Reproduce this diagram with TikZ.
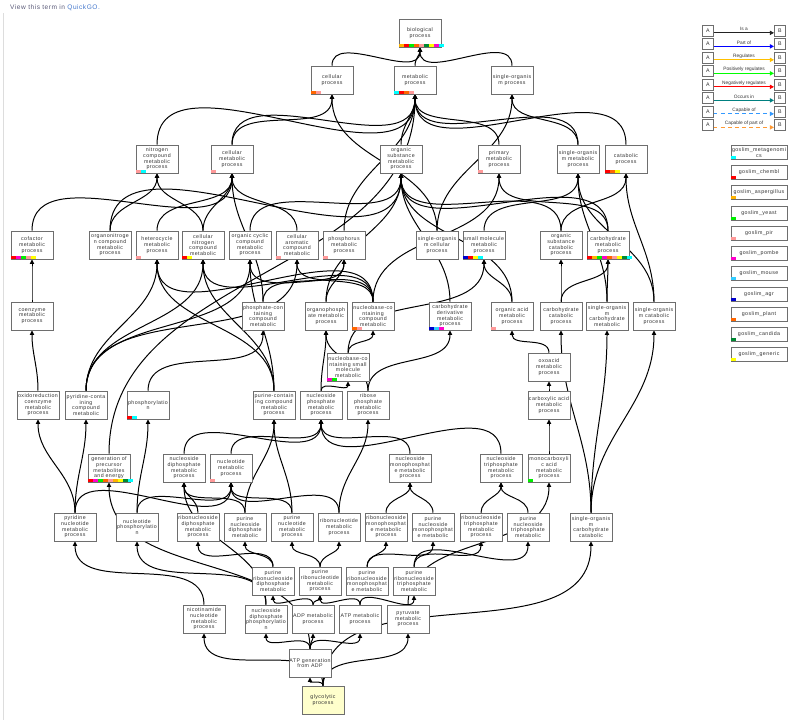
\documentclass[tikz,border=0pt]{standalone}
\usepackage{fontspec}
\newfontfamily\gofont[LetterSpace=8]{Liberation Sans}
\newfontfamily\keyfont{Liberation Sans}
\usetikzlibrary{arrows.meta}
\definecolor{term-border}{HTML}{6E6E6E}
\definecolor{term-text}{HTML}{333333}
\definecolor{glyco-fill}{HTML}{FFFFCC}
\definecolor{view-gray}{HTML}{5A5A78}
\definecolor{link-blue}{HTML}{4477CC}
\definecolor{panel-line}{HTML}{DDDDDD}
\definecolor{slim-meta}{HTML}{00FFFF}
\definecolor{slim-chembl}{HTML}{FF0000}
\definecolor{slim-asperg}{HTML}{FFB300}
\definecolor{slim-yeast}{HTML}{00EE00}
\definecolor{slim-pir}{HTML}{FF9999}
\definecolor{slim-pombe}{HTML}{FF00CC}
\definecolor{slim-mouse}{HTML}{33CCFF}
\definecolor{slim-agr}{HTML}{0000CC}
\definecolor{slim-plant}{HTML}{FF6600}
\definecolor{slim-candida}{HTML}{008833}
\definecolor{slim-generic}{HTML}{FFFF00}
\definecolor{rel-isa}{HTML}{222222}
\definecolor{rel-part}{HTML}{0000FF}
\definecolor{rel-reg}{HTML}{FFC000}
\definecolor{rel-pos}{HTML}{00FF00}
\definecolor{rel-neg}{HTML}{FF0000}
\definecolor{rel-occurs}{HTML}{008080}
\definecolor{rel-capable}{HTML}{3399FF}
\definecolor{rel-capart}{HTML}{FF9933}
\pgfdeclarelayer{edges}
\pgfsetlayers{edges,main}
\newcommand{\termfont}{\gofont\fontsize{4.5}{4.9}\selectfont}
\newcommand{\slimbar}[2]{%
  \foreach \col [count=\i from 0] in {#2}
    \fill[color=\col] (#1.south west) ++(\i*5+0.5,-0.5) rectangle ++(5,-3);}

\begin{document}
\begin{tikzpicture}[x=0.03cm, y=-0.03cm,
    term/.style={draw=term-border, fill=white, line width=0.5pt,
      minimum width=1.26cm, minimum height=0.84cm, inner sep=0pt,
      align=center, text=term-text, font=\termfont},
    isa/.style={draw=black, line width=0.85pt, out=90, in=-90,
      -{Triangle[length=4pt,width=3.6pt]}},
    relbox/.style={draw=term-border, fill=white, line width=0.5pt,
      minimum size=0.34cm, inner sep=0pt, text=term-text, font=\termfont},
    relarrow/.style={line width=1.1pt, -{Triangle[length=3.5pt,width=3.5pt]}},
    keylabel/.style={inner sep=0pt, text=term-text,
      font=\keyfont\fontsize{4.1}{4.5}\selectfont},
    slimbox/.style={draw=term-border, fill=white, line width=0.5pt,
      minimum width=1.68cm, minimum height=0.42cm, inner sep=0pt,
      align=center, text=term-text, font=\termfont}]
  \useasboundingbox (0,0) rectangle (806,720);

  \node[anchor=west, inner sep=0pt, font=\gofont\fontsize{5.6}{6}\selectfont]
    (viewlink) at (10,8)
    {\textcolor{view-gray}{View this term in} \textcolor{link-blue}{QuickGO.}};
  \draw[panel-line, line width=0.8pt] (3,13) -- (3,720);

  % terms, top to bottom
  \node[term] (bioproc) at (420, 33) {biological\\process};

  \node[term] (cellproc) at (332, 80) {cellular\\process};
  \node[term] (metab) at (415, 80) {metabolic\\process};
  \node[term] (singleorg) at (512, 80) {single-organis\\m process};

  \node[term] (nitrogen) at (157, 159) {nitrogen\\compound\\metabolic\\process};
  \node[term] (cellmetab) at (232, 159) {cellular\\metabolic\\process};
  \node[term] (orgsubst) at (401, 159) {organic\\substance\\metabolic\\process};
  \node[term] (primary) at (499, 159) {primary\\metabolic\\process};
  \node[term] (singlemetab) at (578, 159) {single-organis\\m metabolic\\process};
  \node[term] (catab) at (626, 159) {catabolic\\process};

  \node[term] (cofactor) at (32, 245) {cofactor\\metabolic\\process};
  \node[term] (orgnitro) at (110, 245) {organonitroge\\n compound\\metabolic\\process};
  \node[term] (heterocycle) at (157, 245) {heterocycle\\metabolic\\process};
  \node[term] (cellnitro) at (203, 245) {cellular\\nitrogen\\compound\\metabolic};
  \node[term] (orgcyclic) at (250, 245) {organic cyclic\\compound\\metabolic\\process};
  \node[term] (cellarom) at (297, 245) {cellular\\aromatic\\compound\\metabolic};
  \node[term] (phosphorus) at (344, 245) {phosphorus\\metabolic\\process};
  \node[term] (singlecell) at (437, 245) {single-organis\\m cellular\\process};
  \node[term] (smallmol) at (484, 245) {small molecule\\metabolic\\process};
  \node[term] (orgsubcatab) at (561, 245) {organic\\substance\\catabolic\\process};
  \node[term] (carbmetab) at (608, 245) {carbohydrate\\metabolic\\process};

  \node[term] (coenzyme) at (32, 316) {coenzyme\\metabolic\\process};
  \node[term] (phosphcont) at (263, 316) {phosphate-con\\taining\\compound\\metabolic};
  \node[term] (orgphos) at (326, 316) {organophosph\\ate metabolic\\process};
  \node[term] (nucbase) at (373, 316) {nucleobase-co\\ntaining\\compound\\metabolic};
  \node[term] (carbderiv) at (450, 316) {carbohydrate\\derivative\\metabolic\\process};
  \node[term] (orgacid) at (512, 316) {organic acid\\metabolic\\process};
  \node[term] (carbcatab) at (561, 316) {carbohydrate\\catabolic\\process};
  \node[term] (singlecarbmetab) at (607, 316) {single-organis\\m\\carbohydrate\\metabolic};
  \node[term] (singlecatab) at (654, 316) {single-organis\\m catabolic\\process};

  \node[term] (nucbasesmall) at (348, 367) {nucleobase-co\\ntaining small\\molecule\\metabolic};
  \node[term] (oxoacid) at (549, 367) {oxoacid\\metabolic\\process};

  \node[term] (oxidored) at (38, 405) {oxidoreduction\\coenzyme\\metabolic\\process};
  \node[term] (pyridcont) at (86, 405) {pyridine-conta\\ining\\compound\\metabolic};
  \node[term] (phosphoryl) at (148, 405) {phosphorylatio\\n};
  \node[term] (purinecont) at (274, 405) {purine-contain\\ing compound\\metabolic\\process};
  \node[term] (nucphos) at (321, 405) {nucleoside\\phosphate\\metabolic\\process};
  \node[term] (ribosephos) at (368, 405) {ribose\\phosphate\\metabolic\\process};
  \node[term] (carboxylic) at (549, 405) {carboxylic acid\\metabolic\\process};

  \node[term] (generation) at (109, 468) {generation of\\precursor\\metabolites\\and energy};
  \node[term] (nucdiphos) at (184, 468) {nucleoside\\diphosphate\\metabolic\\process};
  \node[term] (nucleotide) at (231, 468) {nucleotide\\metabolic\\process};
  \node[term] (nucmono) at (410, 468) {nucleoside\\monophosphat\\e metabolic\\process};
  \node[term] (nuctri) at (501, 468) {nucleoside\\triphosphate\\metabolic\\process};
  \node[term] (monocarb) at (549, 468) {monocarboxyli\\c acid\\metabolic\\process};

  \node[term] (pyridnuc) at (75, 527) {pyridine\\nucleotide\\metabolic\\process};
  \node[term] (nucphosph) at (137, 527) {nucleotide\\phosphorylatio\\n};
  \node[term] (ribodiphos) at (198, 527) {ribonucleoside\\diphosphate\\metabolic\\process};
  \node[term] (purnucdiphos) at (245, 527) {purine\\nucleoside\\diphosphate\\metabolic};
  \node[term] (purnuc) at (292, 527) {purine\\nucleotide\\metabolic\\process};
  \node[term] (ribonuc) at (339, 527) {ribonucleotide\\metabolic\\process};
  \node[term] (ribomono) at (386, 527) {ribonucleoside\\monophosphat\\e metabolic\\process};
  \node[term] (purnucmono) at (433, 527) {purine\\nucleoside\\monophosphat\\e metabolic};
  \node[term] (ribotri) at (481, 527) {ribonucleoside\\triphosphate\\metabolic\\process};
  \node[term] (purnuctri) at (528, 527) {purine\\nucleoside\\triphosphate\\metabolic};
  \node[term] (singlecarbcatab) at (591, 527) {single-organis\\m\\carbohydrate\\catabolic};

  \node[term] (purribodiphos) at (273, 581) {purine\\ribonucleoside\\diphosphate\\metabolic};
  \node[term] (purribonuc) at (320, 581) {purine\\ribonucleotide\\metabolic\\process};
  \node[term] (purribomono) at (367, 581) {purine\\ribonucleoside\\monophosphat\\e metabolic};
  \node[term] (purribotri) at (414, 581) {purine\\ribonucleoside\\triphosphate\\metabolic};

  \node[term] (nicotin) at (204, 619) {nicotinamide\\nucleotide\\metabolic\\process};
  \node[term] (ndpphos) at (266, 619) {nucleoside\\diphosphate\\phosphorylatio\\n};
  \node[term] (adp) at (313, 619) {ADP metabolic\\process};
  \node[term] (atp) at (360, 619) {ATP metabolic\\process};
  \node[term] (pyruvate) at (408, 619) {pyruvate\\metabolic\\process};

  \node[term] (atpgen) at (310, 663) {ATP generation\\from ADP};
  \node[term, fill=glyco-fill] (glyco) at (323, 700) {glycolytic\\process};

  % subset colour bars
  \slimbar{bioproc}{slim-asperg,slim-chembl,slim-yeast,slim-plant,slim-pir,slim-candida,slim-generic,slim-pombe,slim-meta}
  \slimbar{cellproc}{slim-plant,slim-pir}
  \slimbar{metab}{slim-meta,slim-chembl,slim-plant,slim-pir}
  \slimbar{nitrogen}{slim-pir,slim-meta}
  \slimbar{cellmetab}{slim-pir}
  \slimbar{primary}{slim-pir}
  \slimbar{catab}{slim-chembl,slim-plant,slim-generic}
  \slimbar{cofactor}{slim-chembl,slim-pombe,slim-yeast,slim-pir,slim-generic}
  \slimbar{heterocycle}{slim-pir}
  \slimbar{cellnitro}{slim-chembl,slim-generic}
  \slimbar{cellarom}{slim-pir}
  \slimbar{phosphorus}{slim-pir}
  \slimbar{smallmol}{slim-agr,slim-chembl,slim-generic,slim-meta}
  \slimbar{carbmetab}{slim-chembl,slim-asperg,slim-yeast,slim-pombe,slim-plant,slim-pir,slim-generic,slim-candida,slim-meta}
  \slimbar{nucbase}{slim-plant,slim-pir}
  \slimbar{carbderiv}{slim-agr,slim-mouse,slim-pombe}
  \slimbar{orgacid}{slim-pir}
  \slimbar{nucbasesmall}{slim-pombe,slim-yeast}
  \slimbar{phosphoryl}{slim-chembl,slim-meta}
  \slimbar{generation}{slim-chembl,slim-pombe,slim-yeast,slim-plant,slim-pir,slim-asperg,slim-generic,slim-candida,slim-meta}
  \slimbar{nucleotide}{slim-pir}
  \slimbar{monocarb}{slim-yeast}

  % is_a links, child to parent
  \begin{pgfonlayer}{edges}
  \draw[isa] (cellproc.north) to (bioproc.south);
  \draw[isa] (metab.north) to (bioproc.south);
  \draw[isa] (singleorg.north) to (bioproc.south);
  \draw[isa] (nitrogen.north) to (metab.south);
  \draw[isa] (cellmetab.north) to (cellproc.south);
  \draw[isa] (cellmetab.north) to (metab.south);
  \draw[isa] (orgsubst.north) to (metab.south);
  \draw[isa] (primary.north) to (metab.south);
  \draw[isa] (singlemetab.north) to (metab.south);
  \draw[isa] (singlemetab.north) to (singleorg.south);
  \draw[isa] (catab.north) to (metab.south);
  \draw[isa] (cofactor.north) to (cellmetab.south);
  \draw[isa] (orgnitro.north) to (nitrogen.south);
  \draw[isa] (orgnitro.north) to (orgsubst.south);
  \draw[isa] (heterocycle.north) to (cellmetab.south);
  \draw[isa] (cellnitro.north) to (nitrogen.south);
  \draw[isa] (cellnitro.north) to (cellmetab.south);
  \draw[isa] (orgcyclic.north) to (orgsubst.south);
  \draw[isa] (cellarom.north) to (cellmetab.south);
  \draw[isa] (phosphorus.north) to (metab.south);
  \draw[isa] (singlecell.north) to (cellproc.south);
  \draw[isa] (singlecell.north) to (singleorg.south);
  \draw[isa] (smallmol.north) to (singlemetab.south);
  \draw[isa] (orgsubcatab.north) to (orgsubst.south);
  \draw[isa] (orgsubcatab.north) to (catab.south);
  \draw[isa] (carbmetab.north) to (orgsubst.south);
  \draw[isa] (carbmetab.north) to (primary.south);
  \draw[isa] (coenzyme.north) to (cofactor.south);
  \draw[isa] (phosphcont.north) to (phosphorus.south);
  \draw[isa] (phosphcont.north) to (cellmetab.south);
  \draw[isa] (orgphos.north) to (phosphorus.south);
  \draw[isa] (orgphos.north) to (orgsubst.south);
  \draw[isa] (nucbase.north) to (heterocycle.south);
  \draw[isa] (nucbase.north) to (cellnitro.south);
  \draw[isa] (nucbase.north) to (orgcyclic.south);
  \draw[isa] (nucbase.north) to (cellarom.south);
  \draw[isa] (nucbase.north) to (primary.south);
  \draw[isa] (carbderiv.north) to (orgsubst.south);
  \draw[isa] (orgacid.north) to (smallmol.south);
  \draw[isa] (orgacid.north) to (orgsubst.south);
  \draw[isa] (carbcatab.north) to (orgsubcatab.south);
  \draw[isa] (carbcatab.north) to (carbmetab.south);
  \draw[isa] (singlecarbmetab.north) to (carbmetab.south);
  \draw[isa] (singlecarbmetab.north) to (singlemetab.south);
  \draw[isa] (singlecatab.north) to (catab.south);
  \draw[isa] (singlecatab.north) to (singlemetab.south);
  \draw[isa] (nucbasesmall.north) to (nucbase.south);
  \draw[isa] (nucbasesmall.north) to (smallmol.south);
  \draw[isa] (oxoacid.north) to (orgacid.south);
  \draw[isa] (oxidored.north) to (coenzyme.south);
  \draw[isa] (pyridcont.north) to (heterocycle.south);
  \draw[isa] (pyridcont.north) to (cellnitro.south);
  \draw[isa] (pyridcont.north) to (orgcyclic.south);
  \draw[isa] (pyridcont.north) to (cellarom.south);
  \draw[isa] (phosphoryl.north) to (phosphcont.south);
  \draw[isa] (purinecont.north) to (heterocycle.south);
  \draw[isa] (purinecont.north) to (cellnitro.south);
  \draw[isa] (purinecont.north) to (orgcyclic.south);
  \draw[isa] (nucphos.north) to (nucbasesmall.south);
  \draw[isa] (nucphos.north) to (orgphos.south);
  \draw[isa] (ribosephos.north) to (carbderiv.south);
  \draw[isa] (ribosephos.north) to (orgphos.south);
  \draw[isa] (carboxylic.north) to (oxoacid.south);
  \draw[isa] (generation.north) to (metab.south);
  \draw[isa] (nucdiphos.north) to (nucphos.south);
  \draw[isa] (nucleotide.north) to (nucphos.south);
  \draw[isa] (nucmono.north) to (nucphos.south);
  \draw[isa] (nuctri.north) to (nucphos.south);
  \draw[isa] (monocarb.north) to (carboxylic.south);
  \draw[isa] (pyridnuc.north) to (oxidored.south);
  \draw[isa] (pyridnuc.north) to (pyridcont.south);
  \draw[isa] (pyridnuc.north) to (nucleotide.south);
  \draw[isa] (nucphosph.north) to (phosphoryl.south);
  \draw[isa] (nucphosph.north) to (nucleotide.south);
  \draw[isa] (ribodiphos.north) to (nucdiphos.south);
  \draw[isa] (purnucdiphos.north) to (nucdiphos.south);
  \draw[isa] (purnucdiphos.north) to (purinecont.south);
  \draw[isa] (purnuc.north) to (nucleotide.south);
  \draw[isa] (purnuc.north) to (purinecont.south);
  \draw[isa] (ribonuc.north) to (nucleotide.south);
  \draw[isa] (ribonuc.north) to (ribosephos.south);
  \draw[isa] (ribomono.north) to (nucmono.south);
  \draw[isa] (purnucmono.north) to (nucmono.south);
  \draw[isa] (ribotri.north) to (nuctri.south);
  \draw[isa] (purnuctri.north) to (nuctri.south);
  \draw[isa] (singlecarbcatab.north) to (carbcatab.south);
  \draw[isa] (singlecarbcatab.north) to (singlecarbmetab.south);
  \draw[isa] (singlecarbcatab.north) to (singlecatab.south);
  \draw[isa] (purribodiphos.north) to (ribodiphos.south);
  \draw[isa] (purribodiphos.north) to (purnucdiphos.south);
  \draw[isa] (purribonuc.north) to (purnuc.south);
  \draw[isa] (purribonuc.north) to (ribonuc.south);
  \draw[isa] (purribomono.north) to (ribomono.south);
  \draw[isa] (purribomono.north) to (purnucmono.south);
  \draw[isa] (purribotri.north) to (ribotri.south);
  \draw[isa] (purribotri.north) to (purnuctri.south);
  \draw[isa] (nicotin.north) to (pyridnuc.south);
  \draw[isa] (ndpphos.north) to (nucphosph.south);
  \draw[isa] (ndpphos.north) to (nucdiphos.south);
  \draw[isa] (adp.north) to (purribodiphos.south);
  \draw[isa] (adp.north) to (purribonuc.south);
  \draw[isa] (atp.north) to (purribonuc.south);
  \draw[isa] (atp.north) to (purribotri.south);
  \draw[isa] (pyruvate.north) to (monocarb.south);
  \draw[isa] (atpgen.north) to (ndpphos.south);
  \draw[isa] (atpgen.north) to (adp.south);
  \draw[isa] (atpgen.north) to (atp.south);
  \draw[isa] (atpgen.north) to (generation.south);
  \draw[isa] (glyco.north) to (nicotin.south);
  \draw[isa] (glyco.north) to (atpgen.south);
  \draw[isa] (glyco.north) to (pyruvate.south);
  \draw[isa] (glyco.north) to (singlecarbcatab.south);
  \end{pgfonlayer}

  % relation key
  \foreach \rlab/\rcol/\rdash [count=\i from 0] in {Is a/rel-isa/solid,
      Part of/rel-part/solid, Regulates/rel-reg/solid,
      Positively regulates/rel-pos/solid, Negatively regulates/rel-neg/solid,
      Occurs in/rel-occurs/solid, Capable of/rel-capable/dashed,
      Capable of part of/rel-capart/dashed} {
    \node[relbox] (relA\i) at (708, 30.5+13.5*\i) {A};
    \node[relbox] (relB\i) at (780, 30.5+13.5*\i) {B};
    \draw[relarrow, \rcol, \rdash] ([yshift=-2pt]relA\i.east) --
      node[above=1pt, keylabel] {\rlab}
      ([yshift=-2pt]relB\i.west);
  }

  % subset key
  \foreach \slab/\scol/\sy [count=\i] in {goslim\_metagenomi\\cs/slim-meta/152.5,
      goslim\_chembl/slim-chembl/172.5, goslim\_aspergillus/slim-asperg/192.5,
      goslim\_yeast/slim-yeast/213.5, goslim\_pir/slim-pir/233.5,
      goslim\_pombe/slim-pombe/253.5, goslim\_mouse/slim-mouse/273.5,
      goslim\_agr/slim-agr/294, goslim\_plant/slim-plant/314,
      goslim\_candida/slim-candida/334, goslim\_generic/slim-generic/354.5} {
    \node[slimbox] (slim\i) at (759, \sy) {\slab};
    \fill[color=\scol] (slim\i.south west) ++(0.5,-0.5) rectangle ++(5,-3);
  }
\end{tikzpicture}
\end{document}
